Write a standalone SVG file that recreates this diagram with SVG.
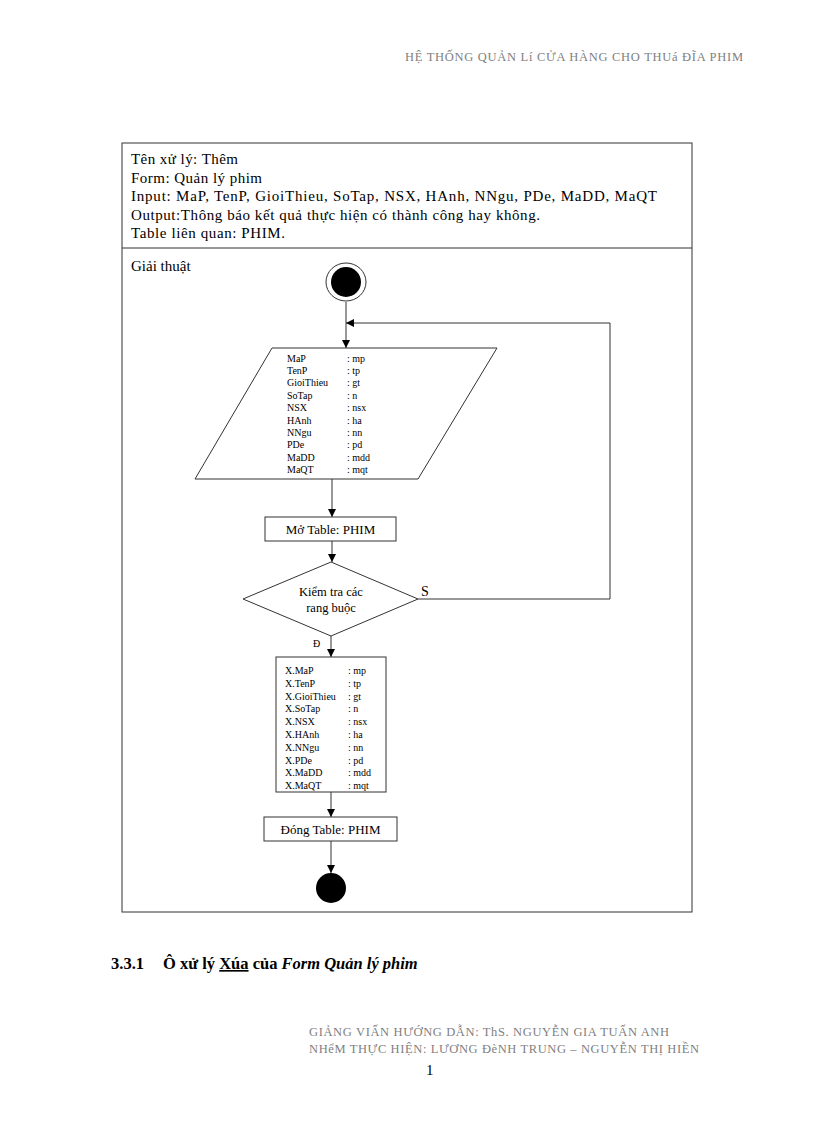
<svg xmlns="http://www.w3.org/2000/svg" width="816" height="1123" viewBox="0 0 816 1123" xml:space="preserve">
<style>
.t{font-family:"Liberation Serif","Times New Roman",serif;fill:#000}
.g{font-family:"Liberation Serif","Times New Roman",serif;fill:#808080;font-size:12.5px}
.m{font-size:15px}
.s{font-size:10px}
.b{font-size:13px}
.ln{stroke:#333;stroke-width:1;fill:none}
.sh{stroke:#333;stroke-width:1;fill:#fff}
</style>
<defs>
<marker id="ah" viewBox="0 0 10 10" refX="10" refY="5" markerWidth="8" markerHeight="8" markerUnits="userSpaceOnUse" orient="auto">
<path d="M0,0 L10,5 L0,10 z" fill="#000"/>
</marker>
</defs>
<rect width="816" height="1123" fill="#fff"/>
<g id="header">
<text class="g" x="405" y="61" textLength="338" lengthAdjust="spacing">HỆ THỐNG QUẢN Lí CỬA HÀNG CHO THUá ĐĨA PHIM</text>
</g>
<g id="frame">
<rect x="122" y="143" width="570" height="769" class="ln" stroke="#444"/>
<line x1="122" y1="248" x2="692" y2="248" class="ln"/>
<text class="t m" x="131" y="164" textLength="107" lengthAdjust="spacing">Tên xử lý:  Thêm</text>
<text class="t m" x="131" y="183" textLength="131" lengthAdjust="spacing">Form:  Quản lý phim</text>
<text class="t m" x="131" y="201" textLength="526" lengthAdjust="spacing">Input:  MaP, TenP, GioiThieu,   SoTap, NSX, HAnh,  NNgu,  PDe, MaDD,  MaQT</text>
<text class="t m" x="131" y="220" textLength="409" lengthAdjust="spacing">Output:Thông  báo kết quả thực hiện  có thành  công  hay không.</text>
<text class="t m" x="131" y="238" textLength="154" lengthAdjust="spacing">Table liên  quan:  PHIM.</text>
<text class="t m" x="131" y="271">Giải  thuật</text>
</g>
<g id="connectors">
<line x1="346" y1="302" x2="346" y2="348" class="ln" marker-end="url(#ah)"/>
<polyline points="418,599 610,599 610,323 346,323" class="ln" marker-end="url(#ah)"/>
<line x1="332" y1="479" x2="332" y2="517" class="ln" marker-end="url(#ah)"/>
<line x1="332" y1="541" x2="332" y2="562" class="ln" marker-end="url(#ah)"/>
<line x1="331" y1="636" x2="331" y2="657" class="ln" marker-end="url(#ah)"/>
<line x1="331" y1="792" x2="331" y2="817" class="ln" marker-end="url(#ah)"/>
<line x1="331" y1="841" x2="331" y2="873" class="ln" marker-end="url(#ah)"/>
<text class="t" x="421" y="596" font-size="14">S</text>
<text class="t s" x="313" y="647">Đ</text>
</g>
<g id="start">
<ellipse cx="346" cy="282" rx="20" ry="19" class="sh"/>
<ellipse cx="346" cy="282" rx="15" ry="15" fill="#000"/>
</g>
<g id="input">
<polygon points="272,348 497,348 418,479 195,479" class="sh"/>
<g class="t s">
<text x="287" y="361.5">MaP</text><text x="347" y="361.5">: mp</text>
<text x="287" y="373.9">TenP</text><text x="347" y="373.9">: tp</text>
<text x="287" y="386.3">GioiThieu</text><text x="347" y="386.3">: gt</text>
<text x="287" y="398.7">SoTap</text><text x="347" y="398.7">: n</text>
<text x="287" y="411.1">NSX</text><text x="347" y="411.1">: nsx</text>
<text x="287" y="423.5">HAnh</text><text x="347" y="423.5">: ha</text>
<text x="287" y="435.9">NNgu</text><text x="347" y="435.9">: nn</text>
<text x="287" y="448.3">PDe</text><text x="347" y="448.3">: pd</text>
<text x="287" y="460.7">MaDD</text><text x="347" y="460.7">: mdd</text>
<text x="287" y="473.1">MaQT</text><text x="347" y="473.1">: mqt</text>
</g>
</g>
<g id="open">
<rect x="265" y="517" width="131" height="24" class="sh"/>
<text class="t b" x="330.5" y="533.5" text-anchor="middle">Mở Table: PHIM</text>
</g>
<g id="check">
<polygon points="331,562 418,599 331,636 243,599" class="sh"/>
<text class="t" font-size="12.5" x="331" y="596" text-anchor="middle">Kiểm  tra các</text>
<text class="t" font-size="12.5" x="331" y="612" text-anchor="middle">rang buộc</text>
</g>
<g id="assign">
<rect x="276" y="657" width="110" height="135" class="sh"/>
<g class="t s">
<text x="285" y="674">X.MaP</text><text x="348" y="674">: mp</text>
<text x="285" y="686.8">X.TenP</text><text x="348" y="686.8">: tp</text>
<text x="285" y="699.6">X.GioiThieu</text><text x="348" y="699.6">: gt</text>
<text x="285" y="712.4">X.SoTap</text><text x="348" y="712.4">: n</text>
<text x="285" y="725.2">X.NSX</text><text x="348" y="725.2">: nsx</text>
<text x="285" y="738">X.HAnh</text><text x="348" y="738">: ha</text>
<text x="285" y="750.8">X.NNgu</text><text x="348" y="750.8">: nn</text>
<text x="285" y="763.6">X.PDe</text><text x="348" y="763.6">: pd</text>
<text x="285" y="776.4">X.MaDD</text><text x="348" y="776.4">: mdd</text>
<text x="285" y="789.2">X.MaQT</text><text x="348" y="789.2">: mqt</text>
</g>
</g>
<g id="close">
<rect x="264" y="817" width="133" height="24" class="sh"/>
<text class="t b" x="330.5" y="834" text-anchor="middle">Đóng Table: PHIM</text>
</g>
<g id="end">
<ellipse cx="331" cy="888" rx="15" ry="15" fill="#000"/>
</g>
<g id="section">
<text class="t" x="111" y="969" font-size="16.5" font-weight="bold">3.3.1<tspan x="163">Ô xử lý </tspan><tspan text-decoration="underline">Xúa</tspan> của <tspan font-style="italic">Form Quản lý phim</tspan></text>
</g>
<g id="footer">
<text class="g" x="309" y="1036" textLength="360" lengthAdjust="spacing">GIẢNG  VIẤN  HƯỚNG  DẪN:  ThS. NGUYỄN   GIA  TUẤN  ANH</text>
<text class="g" x="309" y="1053" textLength="390" lengthAdjust="spacing">NHểM  THỰC  HIỆN:  LƯƠNG  ĐèNH  TRUNG  – NGUYỄN   THỊ  HIỀN</text>
<text class="t" x="426" y="1075" font-size="15">1</text>
</g>
</svg>
